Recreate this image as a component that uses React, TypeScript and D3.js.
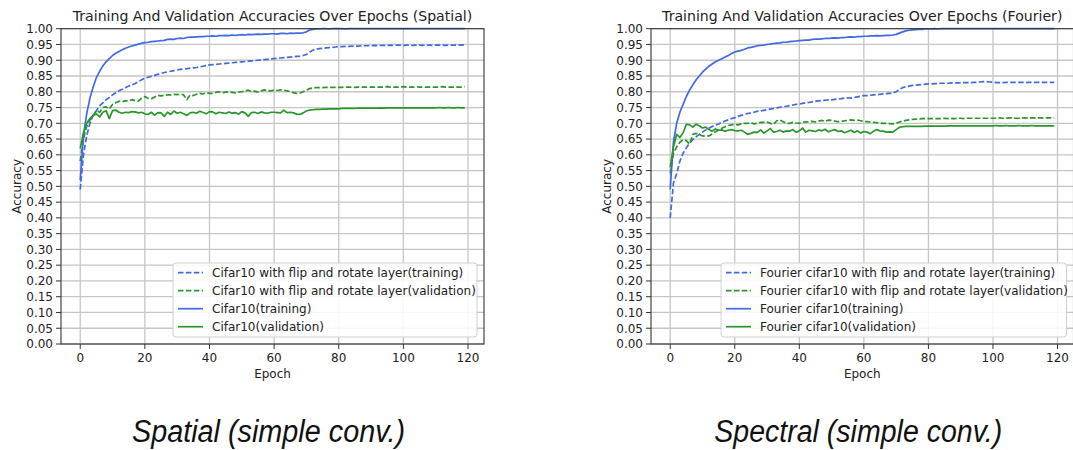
import React from "react";
import * as d3 from "d3";

// ---------- DATA ----------
const epochs: number[] = d3.range(120);
const yTicks: number[] = d3.range(0, 21).map((i) => i * 0.05);
const xTicks: number[] = [0, 20, 40, 60, 80, 100, 120];

// Spatial
const spatialFlipTrain = [.49,.60,.66,.70,.725,.74,.755,.765,.775,.782,
.79,.797,.803,.808,.813,.818,.822,.826,.832,.838,
.843,.846,.849,.852,.855,.858,.861,.863,.865,.867,
.869,.871,.872,.873,.875,.876,.877,.879,.881,.883,
.885,.886,.887,.888,.889,.89,.891,.892,.893,.894,
.895,.896,.897,.898,.899,.900,.901,.902,.903,.904,
.905,.906,.907,.908,.909,.910,.911,.912,.913,.915,
.918,.926,.932,.935,.937,.938,.939,.940,.941,.942,
.943,.943,.944,.944,.945,.945,.945,.946,.946,.946,
.946,.947,.946,.947,.947,.947,.948,.947,.948,.948,
.947,.948,.948,.947,.948,.948,.947,.948,.948,.947,
.948,.948,.948,.947,.948,.948,.948,.949,.948,.949];
const spatialFlipVal = [.58,.65,.69,.71,.725,.74,.735,.75,.752,.745,
.76,.765,.77,.768,.772,.77,.775,.772,.77,.78,
.785,.779,.778,.783,.789,.787,.789,.790,.79,.792,
.791,.793,.79,.775,.79,.788,.792,.795,.793,.797,
.795,.795,.798,.80,.797,.799,.80,.798,.796,.799,
.80,.802,.805,.80,.802,.799,.803,.806,.804,.803,
.805,.804,.806,.805,.803,.80,.797,.795,.796,.80,
.805,.81,.812,.813,.813,.813,.814,.814,.814,.814,
.814,.814,.815,.815,.815,.814,.815,.815,.815,.815,
.815,.815,.815,.815,.815,.816,.815,.815,.815,.815,
.816,.815,.815,.815,.816,.815,.815,.815,.815,.815,
.815,.815,.816,.815,.815,.815,.815,.815,.815,.816];
const spatialTrain = [.52,.66,.73,.78,.815,.845,.865,.882,.895,.905,
.915,.922,.928,.933,.938,.942,.945,.948,.951,.954,
.956,.957,.959,.960,.961,.962,.963,.966,.967,.966,
.969,.970,.969,.972,.973,.973,.974,.975,.975,.976,
.976,.977,.976,.978,.978,.979,.978,.980,.979,.980,
.981,.980,.982,.981,.982,.983,.982,.983,.983,.984,
.984,.983,.985,.985,.984,.986,.985,.986,.986,.987,
.990,.996,.998,.999,.999,1,1,.999,1,1,
1,1,.999,1,1,1,1,1,1,1,
1,1,1,1,1,1,1,1,1,1,
1,1,1,1,1,1,1,1,1,1,
1,1,1,1,1,1,1,1,1,1];
const spatialVal = [.62,.67,.70,.715,.725,.73,.72,.735,.74,.715,
.74,.742,.735,.732,.735,.734,.737,.736,.733,.735,
.73,.728,.735,.726,.734,.733,.722,.735,.728,.739,
.732,.735,.73,.725,.733,.735,.732,.738,.734,.73,
.737,.736,.73,.735,.733,.731,.736,.732,.734,.729,
.737,.733,.722,.734,.735,.731,.736,.733,.732,.735,
.735,.734,.733,.742,.734,.735,.733,.729,.728,.733,
.739,.742,.743,.744,.744,.745,.745,.746,.746,.746,
.746,.747,.747,.747,.747,.747,.748,.748,.748,.748,
.748,.748,.748,.749,.748,.749,.749,.749,.749,.749,
.749,.749,.749,.749,.749,.749,.749,.749,.749,.749,
.749,.750,.749,.749,.750,.749,.749,.750,.749,.749];

// Fourier
const fourierFlipTrain = [.40,.51,.54,.58,.605,.622,.637,.648,.657,.665,
.672,.679,.684,.69,.694,.698,.703,.707,.711,.715,
.718,.722,.725,.728,.731,.733,.735,.738,.739,.741,
.743,.745,.747,.749,.751,.753,.754,.756,.758,.76,
.761,.763,.765,.766,.768,.77,.771,.772,.773,.774,
.774,.776,.777,.778,.78,.781,.78,.782,.784,.786,
.788,.788,.789,.79,.791,.792,.793,.794,.795,.796,
.80,.807,.813,.816,.818,.82,.821,.822,.823,.824,
.825,.825,.826,.826,.827,.827,.827,.828,.828,.828,
.828,.829,.829,.829,.83,.83,.831,.832,.832,.831,
.83,.829,.829,.829,.83,.83,.83,.83,.83,.83,
.829,.83,.83,.83,.83,.83,.83,.83,.83,.83];
const fourierFlipVal = [.54,.605,.625,.64,.648,.645,.634,.665,.668,.665,
.66,.659,.66,.666,.673,.679,.684,.689,.693,.695,
.696,.695,.698,.70,.70,.702,.698,.70,.703,.703,
.704,.70,.696,.708,.71,.705,.70,.70,.703,.701,
.70,.703,.705,.704,.706,.704,.707,.709,.706,.71,
.709,.707,.705,.706,.708,.709,.711,.709,.71,.708,
.706,.705,.704,.703,.702,.701,.70,.70,.699,.698,
.70,.704,.707,.709,.711,.712,.713,.714,.715,.715,
.715,.715,.715,.715,.715,.716,.715,.715,.715,.716,
.716,.715,.716,.716,.716,.716,.716,.716,.716,.716,
.716,.716,.717,.716,.716,.717,.717,.716,.716,.717,
.717,.717,.717,.717,.717,.717,.717,.717,.717,.717];
const fourierTrain = [.49,.64,.70,.735,.76,.785,.805,.822,.837,.85,
.862,.872,.881,.888,.895,.90,.905,.91,.915,.921,
.926,.929,.931,.935,.939,.941,.943,.946,.947,.948,
.950,.951,.953,.954,.955,.957,.957,.959,.96,.961,
.962,.963,.964,.964,.966,.967,.967,.968,.969,.969,
.970,.971,.970,.972,.972,.973,.974,.973,.975,.975,
.976,.976,.977,.977,.978,.977,.978,.979,.979,.980,
.982,.986,.990,.993,.995,.996,.997,.998,.998,.999,
.999,.999,1,.999,1,1,1,1,1,1,
1,1,1,1,1,1,1,1,1,1,
1,1,1,1,1,1,1,1,1,1,
1,1,1,1,1,1,1,1,1,1];
const fourierVal = [.56,.625,.665,.655,.67,.697,.695,.688,.697,.692,
.685,.688,.68,.675,.682,.678,.679,.675,.678,.68,
.677,.676,.678,.672,.665,.668,.672,.671,.679,.669,
.676,.683,.672,.674,.678,.672,.676,.675,.68,.671,
.676,.685,.672,.678,.676,.674,.679,.676,.681,.673,
.677,.68,.674,.676,.67,.674,.678,.671,.676,.669,
.674,.672,.667,.675,.68,.676,.675,.672,.673,.672,
.68,.687,.689,.69,.69,.69,.69,.69,.69,.691,
.691,.691,.691,.691,.691,.691,.692,.692,.692,.692,
.692,.692,.692,.692,.692,.692,.692,.692,.692,.692,
.692,.693,.692,.692,.693,.692,.692,.692,.693,.692,
.692,.692,.693,.692,.692,.692,.692,.692,.692,.692];

const spatialLabels = [
  "Cifar10 with flip and rotate layer(training)",
  "Cifar10 with flip and rotate layer(validation)",
  "Cifar10(training)",
  "Cifar10(validation)",
];
const fourierLabels = [
  "Fourier cifar10 with flip and rotate layer(training)",
  "Fourier cifar10 with flip and rotate layer(validation)",
  "Fourier cifar10(training)",
  "Fourier cifar10(validation)",
];

// ---------- STYLE ----------
const BLUE = "#4169e1";
const GREEN = "#2a962a";
const FONT = "DejaVu Sans, sans-serif";
const TICK_FS = 12;
const styles = [
  { color: BLUE, dash: "5.5,2.4" },
  { color: GREEN, dash: "5.5,2.4" },
  { color: BLUE, dash: null },
  { color: GREEN, dash: null },
];

type PanelProps = {
  left: number;
  right: number;
  title: string;
  series: number[][];
  labels: string[];
  legendLeft: number;
  caption: string;
  captionWidth: number;
};

const TOP = 28.7;
const BOTTOM = 344;

function Panel({ left, right, title, series, labels, legendLeft, caption, captionWidth }: PanelProps) {
  const x = d3.scaleLinear().domain([-5.95, 124.95]).range([left, right]);
  const y = d3.scaleLinear().domain([0, 1]).range([BOTTOM, TOP]);
  const line = d3
    .line<number>()
    .x((_, i) => x(epochs[i]))
    .y((d) => y(d));
  const cx = (left + right) / 2;
  const legendRight = right - 7;
  const legendTop = 263;
  const rowH = 18;
  return (
    <g>
      <defs>
        <clipPath id={`clip-${left}`}>
          <rect x={left} y={TOP - 2} width={right - left} height={BOTTOM - TOP + 2} />
        </clipPath>
      </defs>
      {/* grid */}
      {yTicks.map((t, i) => (
        <line key={"gy" + i} x1={left} x2={right} y1={y(t)} y2={y(t)} stroke="#c6c6c6" strokeWidth={1.3} />
      ))}
      {xTicks.map((t, i) => (
        <line key={"gx" + i} x1={x(t)} x2={x(t)} y1={TOP} y2={BOTTOM} stroke="#c6c6c6" strokeWidth={1.3} />
      ))}
      {/* series */}
      <g clipPath={`url(#clip-${left})`}>
        {series.map((s, i) => (
          <path
            key={"s" + i}
            d={line(s) || ""}
            fill="none"
            stroke={styles[i].color}
            strokeWidth={1.7}
            strokeDasharray={styles[i].dash || undefined}
            strokeLinejoin="round"
          />
        ))}
      </g>
      {/* frame */}
      <rect x={left} y={TOP} width={right - left} height={BOTTOM - TOP} fill="none" stroke="#333" strokeWidth={1.1} />
      {/* y ticks */}
      {yTicks.map((t, i) => (
        <g key={"ty" + i}>
          <line x1={left - 5} x2={left} y1={y(t)} y2={y(t)} stroke="#333" strokeWidth={1} />
          <text x={left - 8} y={y(t)} dy="0.36em" textAnchor="end" fontSize={TICK_FS} fontFamily={FONT} fill="#222">
            {t.toFixed(2)}
          </text>
        </g>
      ))}
      {/* x ticks */}
      {xTicks.map((t, i) => (
        <g key={"tx" + i}>
          <line x1={x(t)} x2={x(t)} y1={BOTTOM} y2={BOTTOM + 5} stroke="#333" strokeWidth={1} />
          <text x={x(t)} y={357.5} dy="0.36em" textAnchor="middle" fontSize={TICK_FS} fontFamily={FONT} fill="#222">
            {t}
          </text>
        </g>
      ))}
      <text x={cx} y={373.5} dy="0.36em" textAnchor="middle" fontSize={TICK_FS} fontFamily={FONT} fill="#222">
        Epoch
      </text>
      <text
        transform={`translate(${left - 44.5},${(TOP + BOTTOM) / 2}) rotate(-90)`}
        textAnchor="middle"
        dy="0.36em"
        fontSize={TICK_FS}
        fontFamily={FONT}
        fill="#222"
      >
        Accuracy
      </text>
      <text x={cx} y={15.5} dy="0.36em" textAnchor="middle" fontSize={14.1} fontFamily={FONT} fill="#222">
        {title}
      </text>
      {/* legend */}
      <rect
        x={legendLeft}
        y={legendTop}
        width={legendRight - legendLeft}
        height={74}
        rx={3}
        fill="#fff"
        fillOpacity={0.85}
        stroke="#d0d0d0"
        strokeWidth={1}
      />
      {labels.map((lab, i) => {
        const yy = legendTop + 9.7 + i * rowH;
        return (
          <g key={"lg" + i}>
            <line
              x1={legendLeft + 5}
              x2={legendLeft + 30}
              y1={yy}
              y2={yy}
              stroke={styles[i].color}
              strokeWidth={1.7}
              strokeDasharray={styles[i].dash || undefined}
            />
            <text x={legendLeft + 39} y={yy} dy="0.36em" fontSize={TICK_FS} fontFamily={FONT} fill="#222">
              {lab}
            </text>
          </g>
        );
      })}
      <text
        x={cx - 4}
        y={441.5}
        textAnchor="middle"
        fontSize={31}
        fontStyle="italic"
        fontFamily="Liberation Sans, Arial, sans-serif"
        fill="#111"
        textLength={captionWidth}
        lengthAdjust="spacingAndGlyphs"
      >
        {caption}
      </text>
    </g>
  );
}

export default function App() {
  return (
    <svg
      width={1073}
      height={450}
      style={{ position: "absolute", left: 0, top: 0, background: "#fff" }}
    >
      <rect x={0} y={0} width={1073} height={450} fill="#fff" />
      <Panel
        left={61}
        right={484}
        title="Training And Validation Accuracies Over Epochs (Spatial)"
        series={[spatialFlipTrain, spatialFlipVal, spatialTrain, spatialVal]}
        labels={spatialLabels}
        legendLeft={173}
        caption="Spatial (simple conv.)"
        captionWidth={273}
      />
      <Panel
        left={651}
        right={1073.5}
        title="Training And Validation Accuracies Over Epochs (Fourier)"
        series={[fourierFlipTrain, fourierFlipVal, fourierTrain, fourierVal]}
        labels={fourierLabels}
        legendLeft={721}
        caption="Spectral (simple conv.)"
        captionWidth={288}
      />
    </svg>
  );
}
